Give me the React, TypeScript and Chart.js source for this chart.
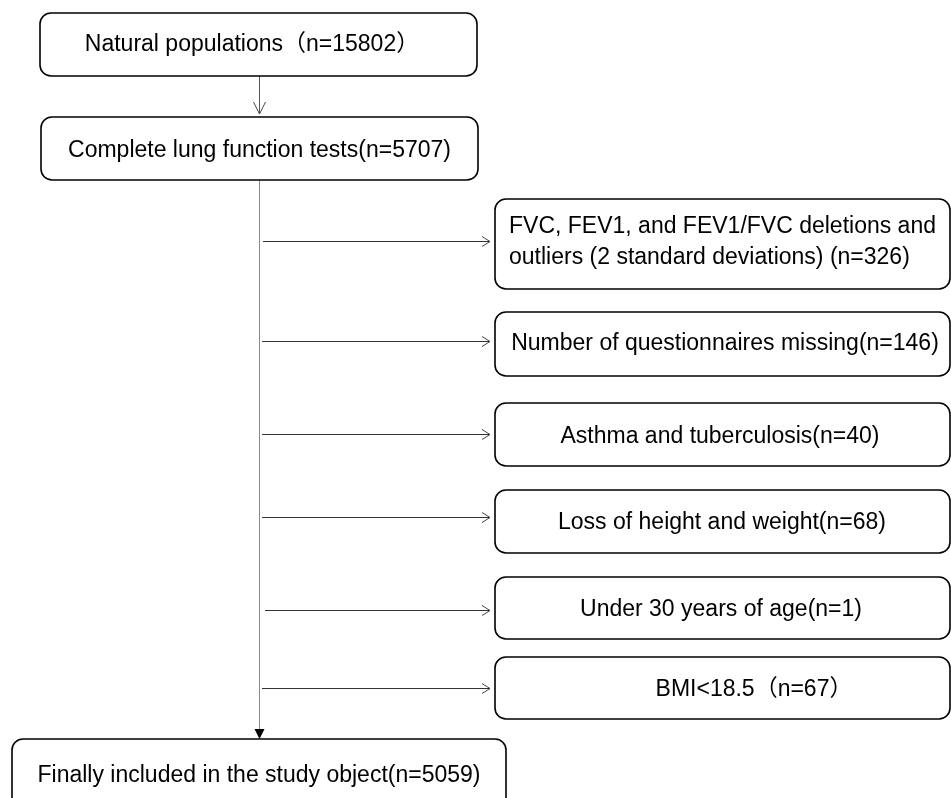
import React, { useEffect, useRef } from "react";
import { Chart, registerables } from "chart.js";

Chart.register(...registerables);

// ---------- data ----------
const mainSteps = [
  "Natural populations",
  "Complete lung function tests",
  "Finally included in the study object",
];
const mainCounts = [15802, 5707, 5059];
const mainCountStyle = ["fullwidth", "plain", "plain"];

const exclusionReasons = [
  "FVC, FEV1, and FEV1/FVC deletions and outliers (2 standard deviations)",
  "Number of questionnaires missing",
  "Asthma and tuberculosis",
  "Loss of height and weight",
  "Under 30 years of age",
  "BMI<18.5",
];
const exclusionCounts = [326, 146, 40, 68, 1, 67];
const exclusionCountStyle = ["spaced", "plain", "plain", "plain", "plain", "fullwidth"];

// ---------- layout (canvas units) ----------
const mainBoxes = [
  { x0: 40, y0: 13, x1: 477, y1: 76, tx: 252, ty: 42.5 },
  { x0: 41, y0: 117, x1: 478, y1: 180, tx: 259.5, ty: 149 },
  { x0: 12, y0: 739, x1: 506, y1: 812, tx: 259, ty: 774 },
];
const sideBoxX0 = 495;
const sideBoxX1 = 950;
const sideBoxY = [
  [199, 289, 240],
  [312, 376, 342],
  [403, 466, 434.5],
  [490, 553, 521],
  [577, 639, 608],
  [657, 719, 688],
];
const sideTextX = [722.5, 725, 720, 722, 721, 754];
const branchY = [241.5, 341.5, 434.5, 517.5, 610.5, 688.5];
const branchX0 = [263, 262, 262, 262, 265, 262];
const branchTipX = 490;
const trunkX = 259.5;
const trunkTop = 180;
const trunkTip = 739;
const topArrow = { y0: 76, y1: 114 };
const wrapWidth = 445;

const FONT = '23px "Liberation Sans", Arial, "Noto Sans CJK SC", sans-serif';

function fmt(name: string, n: number, style: string) {
  if (style === "fullwidth") return `${name}（n=${n}）`;
  if (style === "spaced") return `${name} (n=${n})`;
  return `${name}(n=${n})`;
}

function wrap(ctx: CanvasRenderingContext2D, text: string, maxW: number) {
  const words = text.split(" ");
  const lines: string[] = [];
  let cur = "";
  for (const w of words) {
    const t = cur ? cur + " " + w : w;
    if (ctx.measureText(t).width > maxW && cur) {
      lines.push(cur);
      cur = w;
    } else cur = t;
  }
  if (cur) lines.push(cur);
  return lines;
}

const flowPlugin = {
  id: "flowBoxes",
  afterDatasetsDraw(chart: any) {
    const { ctx } = chart;
    const xs = chart.scales.x;
    const ys = chart.scales.y;
    const px = (v: number) => xs.getPixelForValue(v);
    const py = (v: number) => ys.getPixelForValue(v);

    const drawBox = (x0: number, y0: number, x1: number, y1: number) => {
      ctx.save();
      ctx.beginPath();
      ctx.lineWidth = 1.6;
      ctx.strokeStyle = "#000";
      (ctx as any).roundRect(px(x0), py(y0), px(x1) - px(x0), py(y1) - py(y0), 11);
      ctx.stroke();
      ctx.restore();
    };

    const drawText = (text: string, cx: number, cy: number) => {
      ctx.save();
      ctx.font = FONT;
      ctx.fillStyle = "#000";
      ctx.textBaseline = "alphabetic";
      const lines = wrap(ctx, text, wrapWidth);
      const lh = 31;
      const maxW = Math.max(...lines.map((l) => ctx.measureText(l).width));
      const left = px(cx) - maxW / 2;
      const firstBase = py(cy) - ((lines.length - 1) * lh) / 2 + 8;
      lines.forEach((l, i) => {
        if (lines.length === 1) {
          ctx.textAlign = "center";
          ctx.fillText(l, px(cx), firstBase);
        } else {
          ctx.textAlign = "left";
          ctx.fillText(l, left, firstBase + i * lh);
        }
      });
      ctx.restore();
    };

    mainBoxes.forEach((b, i) => {
      drawBox(b.x0, b.y0, b.x1, b.y1);
      drawText(fmt(mainSteps[i], mainCounts[i], mainCountStyle[i]), b.tx, b.ty);
    });

    sideBoxY.forEach((b, i) => {
      drawBox(sideBoxX0, b[0], sideBoxX1, b[1]);
      drawText(
        fmt(exclusionReasons[i], exclusionCounts[i], exclusionCountStyle[i]),
        sideTextX[i],
        b[2]
      );
    });

    // open chevron arrowheads
    ctx.save();
    ctx.strokeStyle = "#444";
    ctx.lineWidth = 1;
    branchY.forEach((yv) => {
      ctx.beginPath();
      ctx.moveTo(px(branchTipX) - 8, py(yv) - 5);
      ctx.lineTo(px(branchTipX), py(yv));
      ctx.lineTo(px(branchTipX) - 8, py(yv) + 5);
      ctx.stroke();
    });
    ctx.beginPath();
    ctx.moveTo(px(trunkX) - 6, py(topArrow.y1) - 12);
    ctx.lineTo(px(trunkX), py(topArrow.y1));
    ctx.lineTo(px(trunkX) + 6, py(topArrow.y1) - 12);
    ctx.stroke();
    // filled arrowhead at trunk end
    ctx.fillStyle = "#000";
    ctx.beginPath();
    ctx.moveTo(px(trunkX) - 5, py(trunkTip) - 10);
    ctx.lineTo(px(trunkX) + 5, py(trunkTip) - 10);
    ctx.lineTo(px(trunkX), py(trunkTip));
    ctx.closePath();
    ctx.fill();
    ctx.restore();
  },
};

export default function App() {
  const ref = useRef<HTMLCanvasElement | null>(null);

  useEffect(() => {
    document.body.style.margin = "0";
    document.body.style.background = "#fff";
    if (!ref.current) return;

    const datasets: any[] = [
      {
        data: [
          { x: trunkX, y: topArrow.y0 },
          { x: trunkX, y: topArrow.y1 },
        ],
        borderColor: "#555",
      },
      {
        data: [
          { x: trunkX, y: trunkTop },
          { x: trunkX, y: trunkTip - 8 },
        ],
        borderColor: "#888",
      },
      ...branchY.map((yv, i) => ({
        data: [
          { x: branchX0[i], y: yv },
          { x: branchTipX, y: yv },
        ],
        borderColor: "#333",
      })),
    ].map((d) => ({
      ...d,
      showLine: true,
      pointRadius: 0,
      borderWidth: 1,
      fill: false,
    }));

    const chart = new Chart(ref.current, {
      type: "scatter",
      data: { datasets },
      options: {
        animation: false,
        responsive: false,
        maintainAspectRatio: false,
        events: [],
        layout: { padding: 0 },
        plugins: { legend: { display: false }, tooltip: { enabled: false } },
        scales: {
          x: { type: "linear", min: 0, max: 951, display: false },
          y: { type: "linear", min: 0, max: 798, reverse: true, display: false },
        },
      },
      plugins: [flowPlugin],
    } as any);

    return () => chart.destroy();
  }, []);

  return (
    <div style={{ width: 951, height: 798, background: "#fff" }}>
      <canvas ref={ref} width={951} height={798} style={{ display: "block" }} />
    </div>
  );
}
